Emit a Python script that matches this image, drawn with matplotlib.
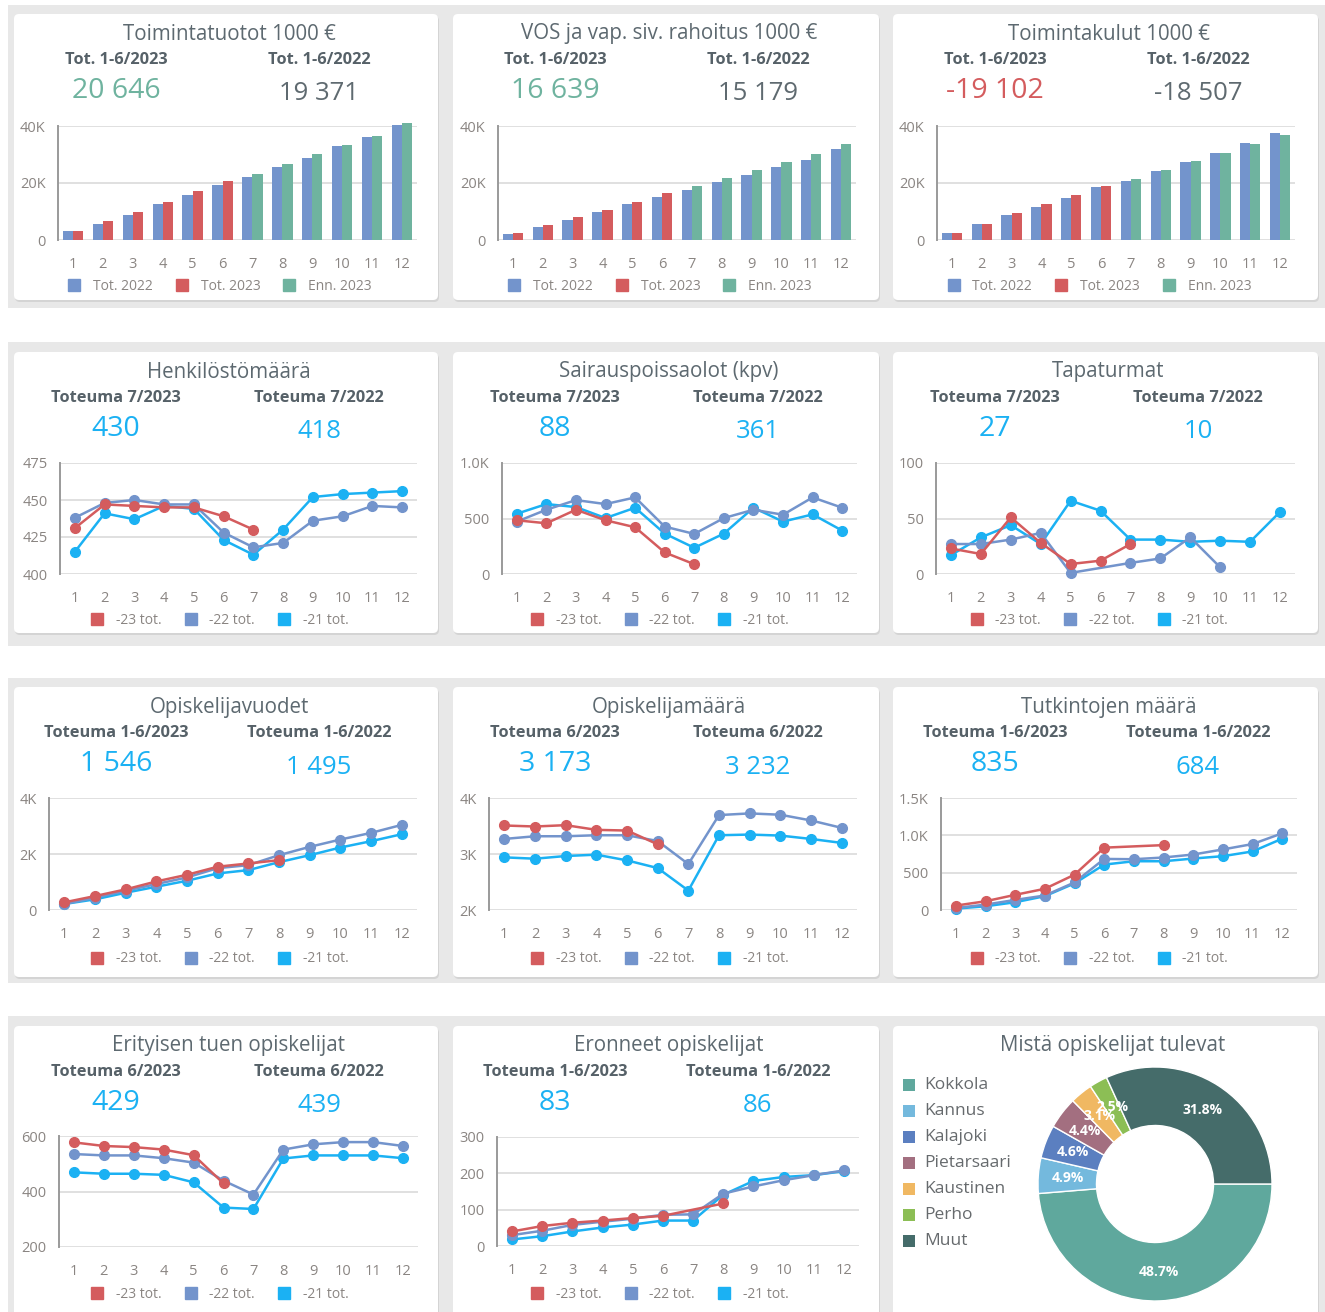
import matplotlib
matplotlib.use("Agg")
import matplotlib.pyplot as plt
from matplotlib.patches import FancyBboxPatch, Rectangle
from matplotlib.lines import Line2D

plt.rcParams['font.family'] = ['Open Sans', 'DejaVu Sans']

W, H = 1325, 1312

months = list(range(1, 13))
month_labels = [str(m) for m in months]

# --- bar panels (1000 €), cumulative ---
tuotot_22 = [3300, 5600, 8900, 12700, 15900, 19371, 22200, 25500, 28700, 32900, 36100, 40200]
tuotot_23 = [3300, 6600, 9900, 13500, 17300, 20646]
tuotot_enn = [23300, 26500, 30100, 33300, 36600, 41100]

vos_22 = [2000, 4700, 7100, 9900, 12700, 15179, 17600, 20500, 22800, 25500, 28200, 32000]
vos_23 = [2500, 5200, 8000, 10700, 13500, 16639]
vos_enn = [19100, 21900, 24600, 27300, 30100, 33800]

kulut_22 = [2400, 5600, 8900, 11600, 14900, 18507, 20800, 24100, 27300, 30600, 34200, 37400]
kulut_23 = [2400, 5600, 9400, 12700, 15900, 19102]
kulut_enn = [21300, 24600, 27800, 30600, 33800, 37000]

# --- line panels: -23 / -22 / -21 ---
henk_23 = [431, 447, 446, 445, 445, 439, 430]
henk_22 = [438, 448, 450, 447, 447, 428, 418, 421, 436, 439, 446, 445]
henk_21 = [415, 441, 437, 446, 444, 423, 413, 430, 452, 454, 455, 456]

sairaus_23 = [484, 457, 579, 484, 421, 194, 88]
sairaus_22 = [472, 579, 666, 630, 690, 427, 361, 504, 579, 534, 690, 597]
sairaus_21 = [543, 630, 603, 504, 597, 364, 236, 364, 597, 472, 537, 391]

tapat_23 = [23, 18, 51, 28, 9, 12, 27]
tapat_22 = [27, 27, 31, 37, 1, None, 10, 14, 33, 6, None, None]
tapat_21 = [17, 33, 44, 27, 66, 57, 31, 31, 29, 30, 29, 56]

vuodet_23 = [273, 498, 736, 1021, 1258, 1546, 1662, 1780]
vuodet_22 = [214, 439, 688, 926, 1163, 1495, 1602, 1958, 2255, 2516, 2754, 3039]
vuodet_21 = [214, 380, 617, 831, 1045, 1306, 1424, 1709, 1958, 2231, 2457, 2706]

opmaara_23 = [3509, 3491, 3515, 3431, 3419, 3173]
opmaara_22 = [3269, 3317, 3317, 3335, 3335, 3232, 2820, 3695, 3725, 3701, 3599, 3467]
opmaara_21 = [2940, 2916, 2964, 2988, 2886, 2749, 2347, 3335, 3347, 3329, 3269, 3198]

tutk_23 = [59, 117, 203, 284, 473, 835, None, 869]
tutk_22 = [27, 72, 135, 194, 369, 684, 680, 703, 743, 811, 883, 1027]
tutk_21 = [18, 50, 104, 185, 356, 608, 653, 653, 689, 721, 784, 955]

erit_23 = [577, 564, 560, 551, 531, 429]
erit_22 = [535, 530, 530, 520, 504, 439, 389, 551, 570, 578, 578, 564]
erit_21 = [469, 464, 464, 460, 433, 342, 337, 519, 530, 530, 530, 520]

eron_23 = [40, 55, 64, 70, 77, 83, None, 117]
eron_22 = [30, 42, 58, 67, 75, 86, 87, 144, 164, 181, 195, 208]
eron_21 = [18, 27, 40, 51, 59, 70, 70, 141, 179, 190, 195, 206]

# --- donut ---
pie_labels = ["Kokkola", "Kannus", "Kalajoki", "Pietarsaari", "Kaustinen", "Perho", "Muut"]
pie_values = [48.7, 4.9, 4.6, 4.4, 3.1, 2.5, 31.8]
pie_colors = ["#5fa89d", "#74b9dd", "#5b7fc0", "#a36f80", "#f0b862", "#8cbe55", "#456c6a"]

C22 = "#7394cc"
C23 = "#d45c5e"
CENN = "#6fb39f"
C21 = "#1bb1f3"
TITLE_C = "#5d6970"
HEAD_C = "#566168"
TICK_C = "#8a8582"
GREY_NUM = "#5f6a70"

fig = plt.figure(figsize=(W / 100, H / 100), dpi=100)
fig.patch.set_facecolor("white")

bg = fig.add_axes([0, 0, 1, 1])
bg.set_xlim(0, W)
bg.set_ylim(H, 0)
bg.axis("off")
bg.set_zorder(0)

# row containers
for y0, y1 in [(5, 308), (342, 646), (678, 983), (1016, 1312)]:
    bg.add_patch(Rectangle((8, y0), W - 8, y1 - y0, fc="#e8e8e8", ec="none"))

cols = [(14, 438), (453, 879), (893, 1318)]
rows = [(14, 300), (352, 633), (687, 977), (1026, 1330)]


def panel(x0, y0, x1, y1):
    bg.add_patch(FancyBboxPatch((x0 + 1, y0 + 2), x1 - x0, y1 - y0,
                                boxstyle="round,pad=0,rounding_size=5", fc="#d4d4d4", ec="none"))
    bg.add_patch(FancyBboxPatch((x0, y0), x1 - x0, y1 - y0,
                                boxstyle="round,pad=0,rounding_size=5", fc="white", ec="none"))


def headers(col, row, title, h1, h2, v1, v2, c1, c2):
    x0, x1 = cols[col]
    top = rows[row][0]
    bg.text((x0 + x1) / 2 + 3, top + 20, title, ha="center", va="center", fontsize=14.8, color=TITLE_C)
    bg.text(x0 + 102, top + 46, h1, ha="center", va="center", fontsize=11.8, color=HEAD_C, fontweight="bold")
    bg.text(x0 + 305, top + 46, h2, ha="center", va="center", fontsize=11.8, color=HEAD_C, fontweight="bold")
    bg.text(x0 + 102, top + 77, v1, ha="center", va="center", fontsize=20.5, color=c1)
    bg.text(x0 + 305, top + 80, v2, ha="center", va="center", fontsize=18.5, color=c2)


def px_axes(left, top, right, bottom):
    ax = fig.add_axes([left / W, 1 - bottom / H, (right - left) / W, (bottom - top) / H])
    ax.set_zorder(1)
    ax.patch.set_alpha(0)
    return ax


def style(ax, ylim, yticks, ylabels):
    ax.set_xlim(0.5, 12.5)
    ax.set_ylim(ylim)
    ax.set_xticks(months)
    ax.set_xticklabels(month_labels)
    ax.set_yticks(yticks)
    ax.set_yticklabels(ylabels)
    for s in ["top", "right", "bottom"]:
        ax.spines[s].set_visible(False)
    ax.spines["left"].set_color("#9a9a9a")
    ax.spines["left"].set_linewidth(1.4)
    ax.grid(axis="y", color="#dadada", lw=1.2)
    ax.set_axisbelow(True)
    ax.tick_params(length=0, labelsize=10.5, colors=TICK_C)
    ax.tick_params(axis="x", pad=12)
    ax.tick_params(axis="y", pad=9)


def legend(ax, col, y, labels, colors):
    x0, x1 = cols[col]
    handles = [Line2D([], [], marker="s", ls="none", color=c, markersize=8.5) for c in colors]
    ax.legend(handles, labels, loc="center", bbox_to_anchor=(((x0 + x1) / 2 - 10) / W, 1 - y / H),
              bbox_transform=fig.transFigure, ncol=3, frameon=False, fontsize=10,
              handletextpad=0.35, columnspacing=1.1, labelcolor=TICK_C, borderaxespad=0)


def bar_panel(col, box, d22, d23, denn):
    ax = px_axes(*box)
    w = 0.34
    ax.bar([m - w / 2 for m in months], d22, width=w, color=C22, zorder=2, clip_on=False)
    ax.bar([m + w / 2 for m in months[:6]], d23, width=w, color=C23, zorder=2, clip_on=False)
    ax.bar([m + w / 2 for m in months[6:]], denn, width=w, color=CENN, zorder=2, clip_on=False)
    style(ax, (0, 40000), [0, 20000, 40000], ["0", "20K", "40K"])
    legend(ax, col, 286, ["Tot. 2022", "Tot. 2023", "Enn. 2023"], [C22, C23, CENN])
    return ax


def plot_series(ax, values, color):
    xs = [m for m, v in zip(months, values) if v is not None]
    ys = [v for v in values if v is not None]
    ax.plot(xs, ys, color=color, lw=1.8, marker="o", ms=7, zorder=3, clip_on=False)


def line_panel(col, box, legend_y, d23, d22, d21, ylim, yticks, ylabels):
    ax = px_axes(*box)
    plot_series(ax, d21, C21)
    plot_series(ax, d22, C22)
    plot_series(ax, d23, C23)
    style(ax, ylim, yticks, ylabels)
    legend(ax, col, legend_y, ["-23 tot.", "-22 tot.", "-21 tot."], [C23, C22, C21])
    return ax


# panels
for r in range(4):
    for c in range(3):
        panel(cols[c][0], rows[r][0], cols[c][1], rows[r][1])

# row 1
headers(0, 0, "Toimintatuotot 1000 €", "Tot. 1-6/2023", "Tot. 1-6/2022", "20 646", "19 371", CENN, GREY_NUM)
headers(1, 0, "VOS ja vap. siv. rahoitus 1000 €", "Tot. 1-6/2023", "Tot. 1-6/2022", "16 639", "15 179", CENN, GREY_NUM)
headers(2, 0, "Toimintakulut 1000 €", "Tot. 1-6/2023", "Tot. 1-6/2022", "-19 102", "-18 507", C23, GREY_NUM)
bar_panel(0, (58, 126, 417, 240), tuotot_22, tuotot_23, tuotot_enn)
bar_panel(1, (498, 126, 856, 240), vos_22, vos_23, vos_enn)
bar_panel(2, (937, 126, 1295, 240), kulut_22, kulut_23, kulut_enn)

# row 2
headers(0, 1, "Henkilöstömäärä", "Toteuma 7/2023", "Toteuma 7/2022", "430", "418", C21, C21)
headers(1, 1, "Sairauspoissaolot (kpv)", "Toteuma 7/2023", "Toteuma 7/2022", "88", "361", C21, C21)
headers(2, 1, "Tapaturmat", "Toteuma 7/2023", "Toteuma 7/2022", "27", "10", C21, C21)
line_panel(0, (60, 463, 417, 574), 620, henk_23, henk_22, henk_21,
           (400, 475), [400, 425, 450, 475], ["400", "425", "450", "475"])
line_panel(1, (502, 463, 857, 574), 620, sairaus_23, sairaus_22, sairaus_21,
           (0, 1000), [0, 500, 1000], ["0", "500", "1.0K"])
line_panel(2, (936, 463, 1295, 574), 620, tapat_23, tapat_22, tapat_21,
           (0, 100), [0, 50, 100], ["0", "50", "100"])

# row 3
headers(0, 2, "Opiskelijavuodet", "Toteuma 1-6/2023", "Toteuma 1-6/2022", "1 546", "1 495", C21, C21)
headers(1, 2, "Opiskelijamäärä", "Toteuma 6/2023", "Toteuma 6/2022", "3 173", "3 232", C21, C21)
headers(2, 2, "Tutkintojen määrä", "Toteuma 1-6/2023", "Toteuma 1-6/2022", "835", "684", C21, C21)
line_panel(0, (49, 798, 417, 910), 959, vuodet_23, vuodet_22, vuodet_21,
           (0, 4000), [0, 2000, 4000], ["0", "2K", "4K"])
line_panel(1, (489, 798, 857, 910), 959, opmaara_23, opmaara_22, opmaara_21,
           (2000, 4000), [2000, 3000, 4000], ["2K", "3K", "4K"])
line_panel(2, (941, 798, 1297, 910), 959, tutk_23, tutk_22, tutk_21,
           (0, 1500), [0, 500, 1000, 1500], ["0", "500", "1.0K", "1.5K"])

# row 4
headers(0, 3, "Erityisen tuen opiskelijat", "Toteuma 6/2023", "Toteuma 6/2022", "429", "439", C21, C21)
headers(1, 3, "Eronneet opiskelijat", "Toteuma 1-6/2023", "Toteuma 1-6/2022", "83", "86", C21, C21)
line_panel(0, (59, 1136, 418, 1247), 1294, erit_23, erit_22, erit_21,
           (200, 600), [200, 400, 600], ["200", "400", "600"])
line_panel(1, (497, 1137, 859, 1246), 1294, eron_23, eron_22, eron_21,
           (0, 300), [0, 100, 200, 300], ["0", "100", "200", "300"])

# donut
x0, x1 = cols[2]
bg.text((x0 + x1) / 2 + 7, 1046, "Mistä opiskelijat tulevat", ha="center", va="center",
        fontsize=14.8, color=TITLE_C)
for i, (lab, col) in enumerate(zip(pie_labels, pie_colors)):
    y = 1085 + i * 26
    bg.add_patch(Rectangle((903, y - 6), 12, 12, fc=col, ec="none"))
    bg.text(924, y, lab, ha="left", va="center", fontsize=12.5, color="#666a6d")

axp = px_axes(1038, 1067, 1272, 1301)
wedges, texts, autotexts = axp.pie(pie_values, colors=pie_colors, startangle=0, counterclock=False,
                                   radius=1, autopct="%.1f%%", pctdistance=0.75,
                                   wedgeprops=dict(width=0.5, edgecolor="white", linewidth=1))
for t in autotexts:
    t.set_color("white")
    t.set_fontsize(10)
    t.set_fontweight("bold")
axp.set_xlim(-1, 1)
axp.set_ylim(-1, 1)
axp.set_aspect("equal")

fig.savefig("out.png", dpi=100, facecolor=fig.get_facecolor())
